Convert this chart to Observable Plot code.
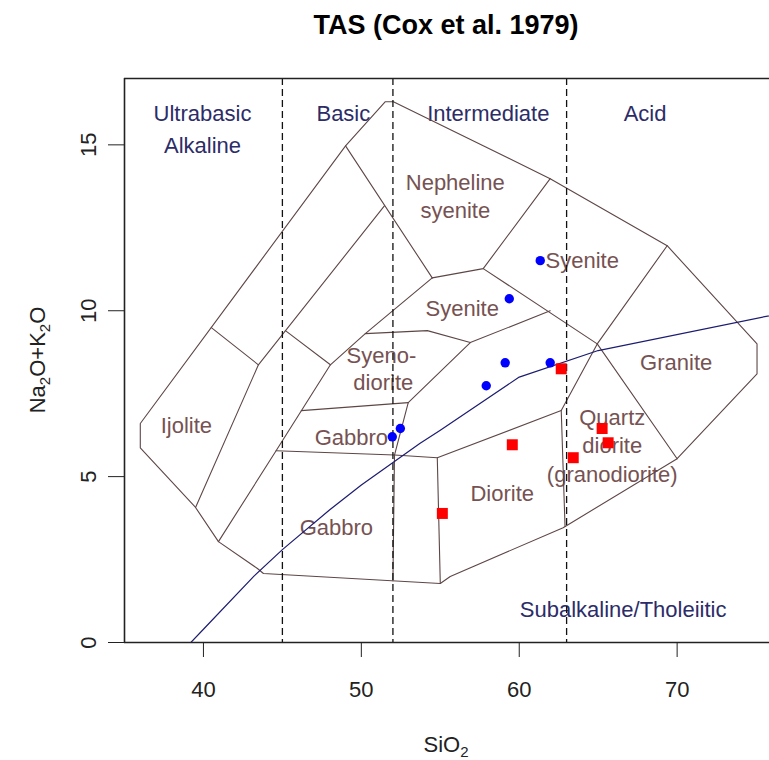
<!DOCTYPE html>
<html>
<head>
<meta charset="utf-8">
<script src="https://cdn.jsdelivr.net/npm/d3@7"></script>
<script src="https://cdn.jsdelivr.net/npm/@observablehq/plot@0.6"></script>
<style>
  body { margin: 0; background: #fff; overflow: hidden; }
  #wrap { position: relative; width: 769px; height: 760px; font-family: "Liberation Sans", Arial, sans-serif; color: #000; }
  #title { position: absolute; left: 446px; top: 25px; transform: translate(-50%, -50%); font-weight: bold; font-size: 27px; white-space: nowrap; }
  #xlab { position: absolute; left: 446px; top: 745px; transform: translate(-50%, -50%); font-size: 22px; white-space: nowrap; color: #222; }
  #ylab { position: absolute; left: 38px; top: 360px; transform: translate(-50%, -50%) rotate(-90deg); font-size: 22px; white-space: nowrap; color: #222; }
  sub { font-size: 15px; vertical-align: -5px; line-height: 0; }
</style>
</head>
<body>
<div id="wrap">
  <div id="chart"></div>
  <div id="title">TAS (Cox et al. 1979)</div>
  <div id="xlab">SiO<sub>2</sub></div>
  <div id="ylab">Na<sub>2</sub>O+K<sub>2</sub>O</div>
</div>
<script>
// ---- data (SiO2 wt%, Na2O+K2O wt%) ----
const xTicks = [40, 50, 60, 70];
const yTicks = [0, 5, 10, 15];
const dividerSi = [45, 52, 63];

// outer outline of the plutonic TAS fields
const outline = [
  [36.0, 6.6], [36.0, 5.87], [39.5, 4.07], [40.95, 3.04], [43.42, 2.23], [43.8, 2.08],
  [55.0, 1.78], [55.63, 1.99], [62.78, 3.46], [70.0, 5.54], [75.06, 8.1], [75.06, 9.0],
  [69.37, 11.96], [61.96, 13.98], [52.03, 16.3], [51.52, 16.3], [49.0, 14.97], [36.0, 6.6]
];

// internal field boundaries
const innerLines = [
  [[49.0, 14.97], [54.49, 10.99]],
  [[54.49, 10.99], [57.72, 11.27], [61.96, 13.98]],
  [[57.72, 11.27], [64.94, 9.0]],
  [[69.37, 11.96], [64.94, 9.0]],
  [[64.94, 9.0], [70.0, 5.54]],
  [[64.94, 9.0], [62.66, 6.99], [62.9, 3.5]],
  [[62.66, 6.99], [54.81, 5.57], [55.0, 1.78]],
  [[54.81, 5.57], [52.1, 5.65], [44.6, 5.78]],
  [[52.97, 7.23], [52.1, 5.65], [52.0, 1.86]],
  [[46.2, 6.99], [52.97, 7.23]],
  [[52.97, 7.23], [56.9, 9.04], [61.96, 10.0]],
  [[50.25, 9.31], [54.18, 9.4], [56.9, 9.04]],
  [[54.49, 10.99], [50.25, 9.31], [48.04, 8.37], [44.6, 5.78], [40.95, 3.04]],
  [[39.5, 4.07], [43.48, 8.37], [51.46, 13.16]],
  [[40.5, 9.49], [43.48, 8.37]],
  [[45.19, 9.4], [48.04, 8.37]]
];

// alkaline / subalkaline divide (Irvine & Baragar)
const divideSi  = [39.2, 40, 43.2, 45, 48, 50, 53.7, 55, 60, 65, 77.4];
const divideAlk = [0, 0.4, 2, 2.8, 4, 4.75, 6, 6.4, 8, 8.8, 10];

// samples
const blueSi  = [61.33, 59.37, 59.11, 61.96, 57.91, 52.47, 51.96];
const blueAlk = [11.51, 10.36, 8.43, 8.43, 7.74, 6.45, 6.2];
const redSi   = [62.66, 65.25, 65.63, 63.42, 59.56, 55.13];
const redAlk  = [8.25, 6.45, 6.02, 5.57, 5.96, 3.89];

// group labels
const groupText = ["Ultrabasic", "Alkaline", "Basic", "Intermediate", "Acid", "Subalkaline/Tholeiitic"];
const groupSi   = [39.94, 39.94, 48.86, 58.04, 67.97, 66.58];
const groupAlk  = [15.93, 14.97, 15.93, 15.93, 15.93, 0.99];

// field labels
const fieldText = ["Nepheline", "syenite", "Syenite", "Syenite", "Syeno-", "diorite", "Ijolite", "Gabbro", "Gabbro", "Diorite", "Granite", "Quartz", "diorite", "(granodiorite)"];
const fieldSi   = [55.95, 55.95, 63.99, 56.39, 51.27, 51.39, 38.92, 49.37, 48.42, 58.92, 69.94, 65.89, 65.89, 65.89];
const fieldAlk  = [13.86, 13.01, 11.51, 10.06, 8.64, 7.83, 6.54, 6.17, 3.46, 4.49, 8.43, 6.78, 5.93, 5.06];

// ---- build ----
const lineColor = "#5e4646";
const fieldColor = "#765252";
const groupColor = "#2c2c68";

const divide = divideSi.map((x, i) => ({x, y: divideAlk[i]}));
const blue = blueSi.map((x, i) => ({x, y: blueAlk[i]}));
const red = redSi.map((x, i) => ({x, y: redAlk[i]}));
const groups = groupText.map((t, i) => ({t, x: groupSi[i], y: groupAlk[i]}));
const fields = fieldText.map((t, i) => ({t, x: fieldSi[i], y: fieldAlk[i]}));

const chart = Plot.plot({
  width: 769,
  height: 760,
  marginTop: 78,
  marginBottom: 118,
  marginLeft: 124,
  marginRight: 0,
  style: {fontSize: "22px", fontFamily: "Liberation Sans, Arial, sans-serif", background: "white", color: "#222", overflow: "visible"},
  x: {domain: [35, 75.85]},
  y: {domain: [0, 17]},
  marks: [
    Plot.text(fields, {x: "x", y: "y", text: "t", fill: fieldColor, fontSize: 22}),
    Plot.text(groups, {x: "x", y: "y", text: "t", fill: groupColor, fontSize: 22}),
    Plot.line(outline, {x: d => d[0], y: d => d[1], stroke: lineColor, strokeWidth: 1.1}),
    ...innerLines.map(l => Plot.line(l, {x: d => d[0], y: d => d[1], stroke: lineColor, strokeWidth: 1.1})),
    Plot.ruleX(dividerSi, {stroke: "#111", strokeWidth: 1.3, strokeDasharray: "7,4"}),
    Plot.line(divide, {x: "x", y: "y", stroke: "#1c1c70", strokeWidth: 1.2, clip: true}),
    Plot.dot(blue, {x: "x", y: "y", r: 4.7, fill: "#0000ff", stroke: "none"}),
    Plot.dot(red, {x: "x", y: "y", r: 6.2, symbol: "square", fill: "#ff0000", stroke: "none"}),
    Plot.ruleX([35], {stroke: "#222", strokeWidth: 1.6}),
    Plot.ruleY([0, 17], {stroke: "#222", strokeWidth: 1.6}),
    Plot.axisX({ticks: xTicks, tickSize: 15, tickPadding: 24, label: null, fontSize: 22, stroke: "#222"}),
    Plot.axisY({ticks: yTicks, tickSize: 16, tickPadding: 13, tickRotate: -90, label: null, fontSize: 22, stroke: "#222"})
  ]
});
document.getElementById("chart").appendChild(chart);
</script>
</body>
</html>
